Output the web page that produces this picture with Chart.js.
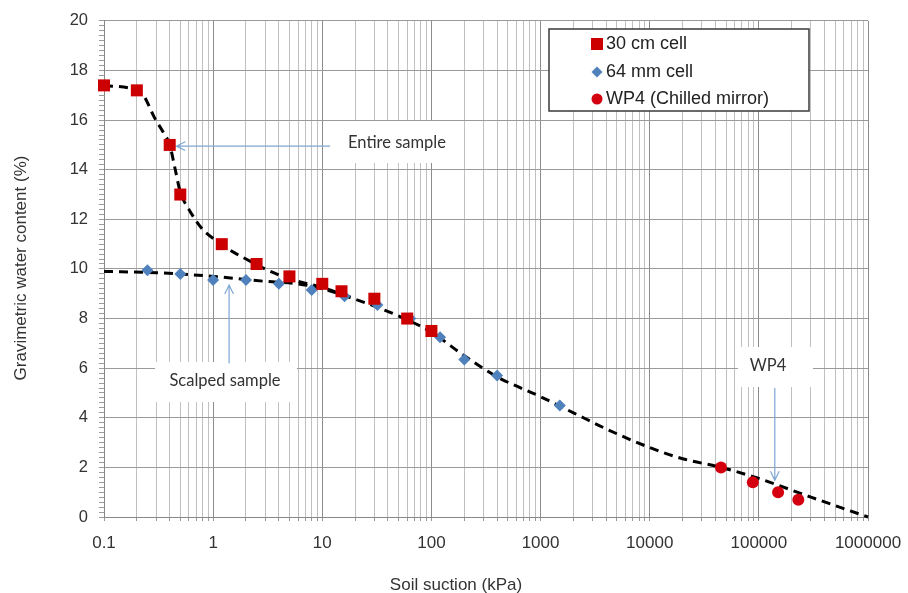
<!DOCTYPE html>
<html>
<head>
<meta charset="utf-8">
<title>Soil water characteristic curve</title>
<script src="https://cdn.jsdelivr.net/npm/chart.js@4.4.1/dist/chart.umd.min.js"></script>
<style>
  html, body { margin: 0; padding: 0; background: #fff; overflow: hidden; }
  #wrap { position: relative; width: 908px; height: 593px; }
</style>
</head>
<body>
<div id="wrap"><canvas id="swccChart"></canvas></div>
<script>
// Axis ticks
const decades = [0.1, 1, 10, 100, 1000, 10000, 100000, 1000000];
const xTickLabels = ["0.1", "1", "10", "100", "1000", "10000", "100000", "1000000"];
const yTickLabels = ["0", "2", "4", "6", "8", "10", "12", "14", "16", "18", "20"];

// 30 cm cell (red squares)
const cell30Suction = [0.1, 0.2, 0.4, 0.5, 1.2, 2.5, 5, 10, 15, 30, 60, 100];
const cell30Water = [17.4, 17.2, 15.0, 13.0, 11.0, 10.2, 9.7, 9.4, 9.1, 8.8, 8.0, 7.5];

// 64 mm cell (blue diamonds)
const cell64Suction = [0.25, 0.5, 1, 2, 4, 8, 16, 32, 64, 120, 200, 400, 1500];
const cell64Water = [9.95, 9.8, 9.55, 9.55, 9.4, 9.15, 8.9, 8.55, 8.0, 7.25, 6.35, 5.7, 4.5];

// WP4 chilled mirror (red circles)
const wp4Suction = [45000, 88000, 150000, 230000];
const wp4Water = [2.0, 1.4, 1.0, 0.7];

// Fitted curve, entire sample (dashed)
const fitEntireSuction = [0.1, 0.2, 0.23, 0.29, 0.35, 0.4, 0.45, 0.5, 0.6, 0.8, 1.1, 1.5, 2, 3, 5, 10, 20];
const fitEntireWater = [17.4, 17.2, 17.0, 16.1, 15.5, 15.0, 14.0, 13.1, 12.4, 11.6, 11.1, 10.7, 10.4, 10.0, 9.6, 9.25, 8.8];

// Fitted curve, scalped sample (dashed, continues to the dry end)
const fitScalpedSuction = [0.1, 0.3, 1, 3, 6, 10, 18, 30, 60, 100, 200, 400, 1000, 2000, 4000, 10000, 20000, 45000, 100000, 300000, 1000000];
const fitScalpedWater = [9.9, 9.85, 9.7, 9.5, 9.4, 9.2, 8.85, 8.5, 7.95, 7.45, 6.5, 5.65, 4.85, 4.2, 3.55, 2.8, 2.35, 2.0, 1.55, 0.8, 0.0];

function toPoints(xs, ys) {
  return xs.map((x, i) => ({ x: x, y: ys[i] }));
}

function isDecade(v) {
  const l = Math.log10(v);
  return Math.abs(l - Math.round(l)) < 1e-9;
}

function isEvenInt(v) {
  return Math.abs(v / 2 - Math.round(v / 2)) < 1e-6;
}

// all 1..9 x 10^n values between 0.1 and 1e6
const xTickValues = [];
decades.forEach((d, i) => {
  if (i === decades.length - 1) {
    xTickValues.push(d);
    return;
  }
  for (let k = 1; k <= 9; k++) xTickValues.push(k * d);
});

// y ticks every 0.2 (minor marks), labelled every 2
const yTickValues = [];
for (let i = 0; i <= 100; i++) yTickValues.push(i / 5);

const arrowColor = "#7fa6d4";

// white label boxes with arrows, legend and axis titles
const annotationPlugin = {
  id: "annotations",
  beforeDatasetsDraw(chart) {
    const ctx = chart.ctx;
    const xs = chart.scales.x;
    const ys = chart.scales.y;

    function arrow(x1, y1, x2, y2) {
      const px1 = xs.getPixelForValue(x1), py1 = ys.getPixelForValue(y1);
      const px2 = xs.getPixelForValue(x2), py2 = ys.getPixelForValue(y2);
      const ang = Math.atan2(py2 - py1, px2 - px1);
      ctx.save();
      ctx.strokeStyle = arrowColor;
      ctx.lineWidth = 1.2;
      ctx.beginPath();
      ctx.moveTo(px1, py1);
      ctx.lineTo(px2, py2);
      ctx.moveTo(px2 - 10 * Math.cos(ang - 0.45), py2 - 10 * Math.sin(ang - 0.45));
      ctx.lineTo(px2, py2);
      ctx.lineTo(px2 - 10 * Math.cos(ang + 0.45), py2 - 10 * Math.sin(ang + 0.45));
      ctx.stroke();
      ctx.restore();
    }

    function label(text, x, y, box) {
      ctx.save();
      ctx.fillStyle = "#ffffff";
      ctx.fillRect(box[0], box[1], box[2], box[3]);
      ctx.fillStyle = "#333333";
      ctx.font = "16.5px Lato, 'Open Sans', sans-serif";
      ctx.textAlign = "center";
      ctx.textBaseline = "middle";
      ctx.fillText(text, x, y);
      ctx.restore();
    }

    label("Entire sample", 397, 143, [333, 121, 127, 42]);
    arrow(11.8, 14.95, 0.46, 14.95);

    label("Scalped sample", 225, 381, [155, 362, 142, 40]);
    arrow(1.4, 6.2, 1.4, 9.35);

    label("WP4", 768, 366, [738, 347, 75, 40]);
    arrow(140000, 5.2, 140000, 1.48);
  },
  afterDraw(chart) {
    const ctx = chart.ctx;
    ctx.save();

    // legend box
    ctx.fillStyle = "#ffffff";
    ctx.fillRect(549, 29, 260, 82);
    ctx.strokeStyle = "#3a3a3a";
    ctx.lineWidth = 1.5;
    ctx.strokeRect(549, 29, 260, 82);

    ctx.fillStyle = "#cc0000";
    ctx.fillRect(591, 38, 12, 12);

    ctx.fillStyle = "#4f81bd";
    ctx.beginPath();
    ctx.moveTo(597, 66.5);
    ctx.lineTo(602.5, 72);
    ctx.lineTo(597, 77.5);
    ctx.lineTo(591.5, 72);
    ctx.closePath();
    ctx.fill();

    ctx.fillStyle = "#d40010";
    ctx.beginPath();
    ctx.arc(597, 99, 5.5, 0, Math.PI * 2);
    ctx.fill();

    ctx.fillStyle = "#222";
    ctx.font = "18px 'Liberation Sans', Arial, sans-serif";
    ctx.textAlign = "left";
    ctx.textBaseline = "middle";
    ctx.fillText("30 cm cell", 606, 44);
    ctx.fillText("64 mm cell", 606, 72);
    ctx.fillText("WP4 (Chilled mirror)", 606, 99);

    // axis titles
    ctx.fillStyle = "#333";
    ctx.font = "17px 'Liberation Sans', Arial, sans-serif";
    ctx.textAlign = "center";
    ctx.textBaseline = "alphabetic";
    ctx.fillText("Soil suction (kPa)", 456, 590);

    ctx.translate(26, 268);
    ctx.rotate(-Math.PI / 2);
    ctx.fillText("Gravimetric water content (%)", 0, 0);
    ctx.restore();
  }
};

const swccChart = new Chart(document.getElementById("swccChart"), {
  type: "scatter",
  data: {
    datasets: [
      {
        label: "30 cm cell",
        data: toPoints(cell30Suction, cell30Water),
        pointStyle: "rect",
        pointRadius: 8.5,
        backgroundColor: "#cc0000",
        borderColor: "#cc0000",
        borderWidth: 0,
        clip: 12,
        order: 1,
      },
      {
        label: "64 mm cell",
        data: toPoints(cell64Suction, cell64Water),
        pointStyle: "rectRot",
        pointRadius: 6,
        backgroundColor: "#4f81bd",
        borderColor: "#4f81bd",
        borderWidth: 0,
        clip: 12,
        order: 2,
      },
      {
        label: "WP4 (Chilled mirror)",
        data: toPoints(wp4Suction, wp4Water),
        pointStyle: "circle",
        pointRadius: 6,
        backgroundColor: "#d40010",
        borderColor: "#d40010",
        borderWidth: 0,
        clip: 12,
        order: 0,
      },
      {
        label: "Fit entire",
        data: toPoints(fitEntireSuction, fitEntireWater),
        showLine: true,
        pointRadius: 0,
        borderColor: "#000000",
        borderWidth: 3,
        borderDash: [9, 6],
        cubicInterpolationMode: "monotone",
        clip: 4,
        order: 5,
      },
      {
        label: "Fit scalped",
        data: toPoints(fitScalpedSuction, fitScalpedWater),
        showLine: true,
        pointRadius: 0,
        borderColor: "#000000",
        borderWidth: 3,
        borderDash: [9, 6],
        cubicInterpolationMode: "monotone",
        clip: 4,
        order: 5,
      },
    ],
  },
  options: {
    responsive: true,
    maintainAspectRatio: false,
    animation: false,
    layout: {
      padding: { top: 18, right: 40, left: 0, bottom: 0 },
    },
    plugins: {
      legend: { display: false },
      tooltip: { enabled: false },
    },
    scales: {
      x: {
        type: "logarithmic",
        min: 0.1,
        max: 1000000,
        afterBuildTicks: function (scale) {
          scale.ticks = xTickValues.map((v) => ({ value: v }));
        },
        afterFit: function (scale) {
          scale.height = 76;
          scale.paddingLeft = 0;
          scale.paddingRight = 0;
        },
        border: { color: "#888888", width: 1 },
        grid: {
          color: function (ctx) {
            if (!ctx.tick) return "#b8b8b8";
            return isDecade(ctx.tick.value) ? "#8c8c8c" : "#c0c0c0";
          },
          tickColor: "#999999",
          tickLength: 4,
          lineWidth: 1,
        },
        ticks: {
          autoSkip: false,
          maxRotation: 0,
          padding: 12,
          color: "#333333",
          font: { family: "'Liberation Sans', Arial, sans-serif", size: 17 },
          callback: function (value) {
            if (!isDecade(value)) return "";
            const i = Math.round(Math.log10(value)) + 1;
            return xTickLabels[i];
          },
        },
      },
      y: {
        type: "linear",
        min: 0,
        max: 20,
        afterBuildTicks: function (scale) {
          scale.ticks = yTickValues.map((v) => ({ value: v }));
        },
        afterFit: function (scale) {
          scale.width = 104;
        },
        border: { color: "#888888", width: 1 },
        grid: {
          color: function (ctx) {
            if (!ctx.tick) return "rgba(0,0,0,0)";
            return isEvenInt(ctx.tick.value) ? "#9a9a9a" : "rgba(0,0,0,0)";
          },
          tickColor: "#9a9a9a",
          tickLength: 5,
          lineWidth: 1,
        },
        ticks: {
          autoSkip: false,
          padding: 11,
          color: "#333333",
          font: { family: "'Liberation Sans', Arial, sans-serif", size: 16.5 },
          callback: function (value) {
            if (!isEvenInt(value)) return "";
            return yTickLabels[Math.round(value / 2)];
          },
        },
      },
    },
  },
  plugins: [annotationPlugin],
});
</script>
</body>
</html>
